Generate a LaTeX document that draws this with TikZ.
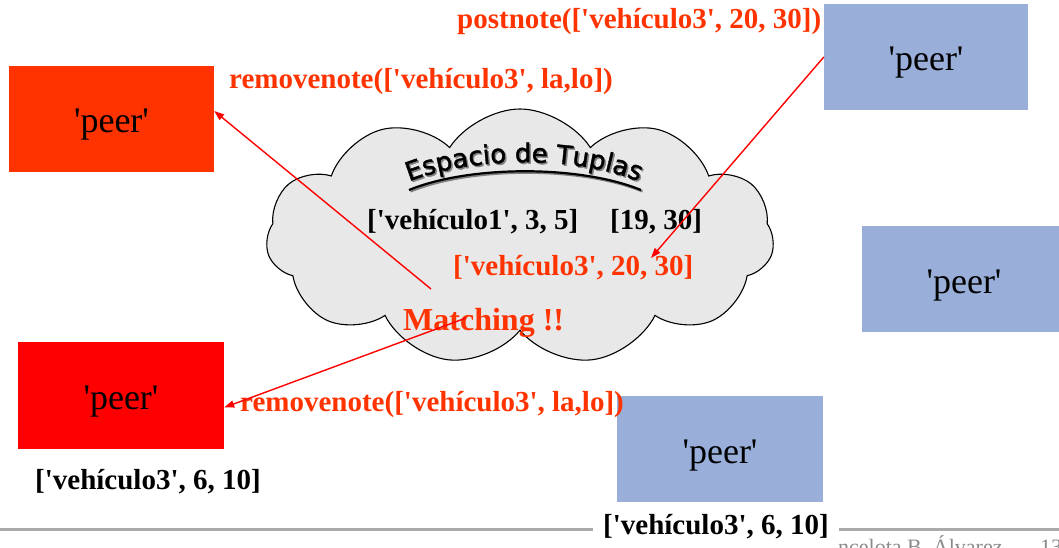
\documentclass[tikz,border=0pt]{standalone}
\usepackage{fontspec}
\setmainfont{Liberation Serif}
\newfontfamily\arcfont[FakeBold=1.6]{DejaVu Sans}
\usetikzlibrary{shapes.symbols,arrows.meta,decorations.text}

\definecolor{hotred}{HTML}{FF3300}
\definecolor{peerblue}{HTML}{99AFDA}
\definecolor{cloudgray}{HTML}{E8E8E8}
\definecolor{rulegray}{HTML}{AAAAAA}
\definecolor{footgray}{HTML}{8A8A8A}

% straight single quote
\newcommand{\sq}{\textquotesingle}

\tikzset{
  peerbox/.style={rectangle, inner sep=0pt, text height=28pt, text depth=0pt,
                  font=\fontsize{36}{36}\selectfont},
  tuple/.style={anchor=west, inner sep=0pt, font=\bfseries\fontsize{29}{29}\selectfont},
  hot/.style={tuple, text=hotred},
  msgarrow/.style={draw=red, line width=1.4pt, -{Triangle[length=10pt,width=7pt]}},
}

\begin{document}
\begin{tikzpicture}[x=1pt,y=-1pt]
\useasboundingbox (0,0) rectangle (1059,548);
\clip (0,0) rectangle (1059,548);

% footer rule
\draw[rulegray, line width=3pt] (0,529) -- (1059,529);
\node[anchor=base west, inner sep=0pt, text=footgray, font=\fontsize{22}{22}\selectfont] (author) at (838,554) {ncelota B. Álvarez};
\node[anchor=base west, inner sep=0pt, text=footgray, font=\fontsize{22}{22}\selectfont] (pageno) at (1040,554) {13};

% tuple space
\node[cloud, cloud puffs=11, cloud puff arc=115, aspect=2.0, draw=black, line width=1.1pt,
      fill=cloudgray, minimum width=508pt, minimum height=256pt, inner sep=0pt] (space) at (520,237) {};

% arched title with its underline
\begin{scope}[shift={(1.5,1.5)}]
  \path[decorate, decoration={text along path, text align={center},
        text={|\arcfont\fontsize{26}{26}\selectfont\color{gray}|Espacio de Tuplas}}]
        (403,184) .. controls (470,155) and (580,155) .. (645,184);
  \draw[gray, line width=2.2pt] (409,190) .. controls (470,165) and (580,165) .. (641,190);
\end{scope}
\path[decorate, decoration={text along path, text align={center},
      text={|\arcfont\fontsize{26}{26}\selectfont|Espacio de Tuplas}}]
      (403,184) .. controls (470,155) and (580,155) .. (645,184);
\draw[black, line width=2.2pt] (409,190) .. controls (470,165) and (580,165) .. (641,190);

\node[tuple] (t1) at (367,222) {[\sq vehículo1\sq, 3, 5]};
\node[tuple] (t2) at (610,222) {[19, 30]};
\node[hot] (t3) at (453,268) {[\sq vehículo3\sq, 20, 30]};
\node[hot, font=\bfseries\fontsize{32}{32}\selectfont] (match) at (403,323) {Matching !!};

% peers
\node[peerbox, fill=hotred, minimum width=205pt, minimum height=106pt] (p1) at (111.5,119) {\sq peer\sq};
\node[peerbox, fill=red, minimum width=206pt, minimum height=107pt] (p2) at (121,395.5) {\sq peer\sq};
\node[peerbox, fill=peerblue, minimum width=204pt, minimum height=106pt] (p3) at (926,57) {\sq peer\sq};
\node[peerbox, fill=peerblue, minimum width=204pt, minimum height=106pt] (p4) at (964,279) {\sq peer\sq};
\node[peerbox, fill=peerblue, minimum width=206pt, minimum height=106pt] (p5) at (720,449) {\sq peer\sq};

% operation labels
\node[hot] (post) at (457,22) {postnote([\sq vehículo3\sq, 20, 30])};
\node[hot] (rem1) at (229,82) {removenote([\sq vehículo3\sq, la,lo])};
\node[hot] (rem2) at (240,405) {removenote([\sq vehículo3\sq, la,lo])};

% local tuples
\node[tuple] (loc1) at (35,482) {[\sq vehículo3\sq, 6, 10]};
\node[tuple, fill=white, inner xsep=10pt, inner ysep=2pt] (loc2) at (593,527) {[\sq vehículo3\sq, 6, 10]};

% message arrows
\coordinate (in3) at (651,258);
\coordinate (out1) at (431,289);
\coordinate (out2) at (466,318);
\draw[msgarrow] (p3.west) -- (in3);
\draw[msgarrow] (out1) -- ([yshift=8pt]p1.east);
\draw[msgarrow] (out2) -- ([yshift=-12pt]p2.east);
\end{tikzpicture}
\end{document}
